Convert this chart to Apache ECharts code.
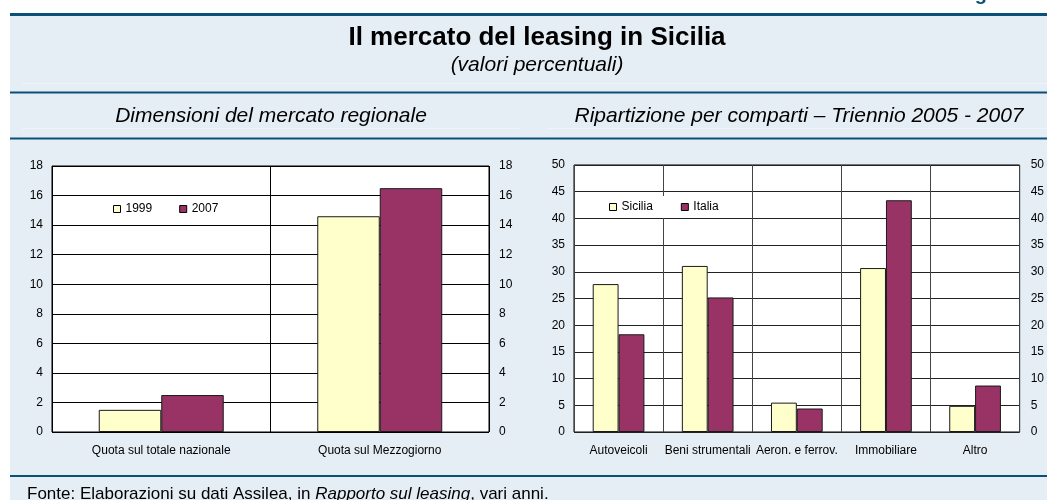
<!DOCTYPE html>
<html>
<head>
<meta charset="utf-8">
<script src="https://cdn.jsdelivr.net/npm/echarts@6/dist/echarts.min.js"></script>
<style>
html,body{margin:0;padding:0;background:#fff;}
#c{width:1047px;height:500px;}
</style>
</head>
<body>
<div id="c"></div>
<script>
// ---- data ----
const leftCategories = ['Quota sul totale nazionale', 'Quota sul Mezzogiorno'];
const leftSeriesNames = ['1999', '2007'];
const values1999 = [1.5, 14.6];
const values2007 = [2.5, 16.5];
const leftAxisMax = 18;
const leftAxisStep = 2;

const rightCategories = ['Autoveicoli', 'Beni strumentali', 'Aeron. e ferrov.', 'Immobiliare', 'Altro'];
const rightSeriesNames = ['Sicilia', 'Italia'];
const valuesSicilia = [27.7, 31.1, 5.5, 30.7, 4.9];
const valuesItalia = [18.3, 25.2, 4.4, 43.4, 8.7];
const rightAxisMax = 50;
const rightAxisStep = 5;

const titleText = 'Il mercato del leasing in Sicilia';
const subtitleText = '(valori percentuali)';
const leftPanelTitle = 'Dimensioni del mercato regionale';
const rightPanelTitle = 'Ripartizione per comparti \u2013 Triennio 2005 - 2007';
const figLabel = 'Figura';

// ---- styles ----
const FONT = '"Liberation Sans", Arial, Helvetica, sans-serif';
const BLUE = '#0b5079';
const BG = '#e5eef5';
const YELLOW = '#ffffcc';
const PURPLE = '#993366';

const chart = echarts.init(document.getElementById('c'), null, {renderer: 'canvas'});

function hLine(y, h, x1, x2, color) {
  return {type: 'rect', z: -5, silent: true, shape: {x: x1, y: y, width: x2 - x1, height: h}, style: {fill: color}};
}
function txt(text, x, y, font, align, extra) {
  return Object.assign({type: 'text', z: 10, silent: true,
    style: Object.assign({text: text, x: x, y: y, font: font, fill: '#000', align: align || 'center', verticalAlign: 'middle'}, extra || {})});
}

const axisLabelStyle = {fontFamily: FONT, fontSize: 12, color: '#000'};

function yAxes(gridIndex, max, step, splitColor, rightMargin) {
  return [
    {type: 'value', gridIndex: gridIndex, min: 0, max: max, interval: step, position: 'left',
     axisLine: {show: false}, axisTick: {show: false},
     axisLabel: Object.assign({margin: 9}, axisLabelStyle),
     splitLine: {show: true, lineStyle: {color: splitColor, width: 1}}},
    {type: 'value', gridIndex: gridIndex, min: 0, max: max, interval: step, position: 'right',
     axisLine: {show: false}, axisTick: {show: false},
     axisLabel: Object.assign({margin: rightMargin}, axisLabelStyle),
     splitLine: {show: false}}
  ];
}

function xAxis(gridIndex, cats, splitColor) {
  return {type: 'category', gridIndex: gridIndex, data: cats, boundaryGap: true,
    axisLine: {show: false}, axisTick: {show: false},
    axisLabel: Object.assign({margin: 13, interval: 0}, axisLabelStyle),
    splitLine: {show: true, interval: 0, lineStyle: {color: splitColor, width: 1}}};
}

function barSeries(name, data, color, xi, yi, width) {
  return {type: 'bar', name: name, data: data, xAxisIndex: xi, yAxisIndex: yi,
    barWidth: width, barGap: '0%',
    itemStyle: {color: color, borderColor: '#1a1a1a', borderWidth: 1},
    emphasis: {disabled: true}, animation: false};
}

const legendCommon = {
  orient: 'horizontal', icon: 'rect', itemWidth: 7, itemHeight: 7,
  backgroundColor: '#fff', padding: 5,
  itemStyle: {borderColor: '#000', borderWidth: 1},
  textStyle: {fontFamily: FONT, fontSize: 12, color: '#000'},
  selectedMode: false
};

const option = {
  animation: false,
  textStyle: {fontFamily: FONT},
  graphic: [
    {type: 'rect', z: -10, silent: true, shape: {x: 10, y: 15, width: 1037, height: 485}, style: {fill: BG}},
    hLine(13, 3, 10, 1047, BLUE),
    hLine(91.5, 2, 10, 1047, BLUE),
    hLine(137.5, 2, 10, 1047, BLUE),
    hLine(475, 2, 10, 1047, BLUE),
    hLine(83, 1, 22, 1047, '#eef4f9'),
    hLine(128, 1, 22, 520, '#eef4f9'),
    hLine(128, 1, 547, 1047, '#eef4f9'),
    txt(figLabel, 957, -6, 'bold 20px ' + FONT, 'left', {fill: BLUE}),
    txt(titleText, 537, 38, 'bold 26px ' + FONT),
    txt(subtitleText, 537, 65, 'italic 21px ' + FONT),
    txt(leftPanelTitle, 271, 116, 'italic 21px ' + FONT),
    txt(rightPanelTitle, 799, 116, 'italic 21px ' + FONT),
    {type: 'text', z: 10, silent: true, style: {
      text: 'Fonte: Elaborazioni su dati Assilea, in {i|Rapporto sul leasing}, vari anni.',
      x: 27, y: 494, font: '17px ' + FONT, fill: '#000', align: 'left', verticalAlign: 'middle',
      rich: {i: {fontStyle: 'italic', fontSize: 17, fontFamily: FONT, fill: '#000'}}
    }}
  ],
  grid: [
    {left: 52, right: 558, top: 166, bottom: 68, show: true, backgroundColor: '#fff', borderColor: '#000', borderWidth: 1, containLabel: false},
    {left: 574, right: 23, top: 165, bottom: 68, show: true, backgroundColor: '#fff', borderColor: '#000', borderWidth: 1, containLabel: false}
  ],
  legend: [
    Object.assign({}, legendCommon, {data: leftSeriesNames, left: 108, top: 198, itemGap: 27}),
    Object.assign({}, legendCommon, {data: rightSeriesNames, left: 604, top: 196, itemGap: 28})
  ],
  xAxis: [xAxis(0, leftCategories, '#000'), xAxis(1, rightCategories, '#444')],
  yAxis: yAxes(0, leftAxisMax, leftAxisStep, '#000', 10).concat(yAxes(1, rightAxisMax, rightAxisStep, '#222', 11)),
  series: [
    barSeries(leftSeriesNames[0], values1999, YELLOW, 0, 0, '28.6%'),
    barSeries(leftSeriesNames[1], values2007, PURPLE, 0, 0, '28.6%'),
    barSeries(rightSeriesNames[0], valuesSicilia, YELLOW, 1, 2, '29%'),
    barSeries(rightSeriesNames[1], valuesItalia, PURPLE, 1, 2, '29%')
  ]
};
chart.setOption(option);
</script>
</body>
</html>
